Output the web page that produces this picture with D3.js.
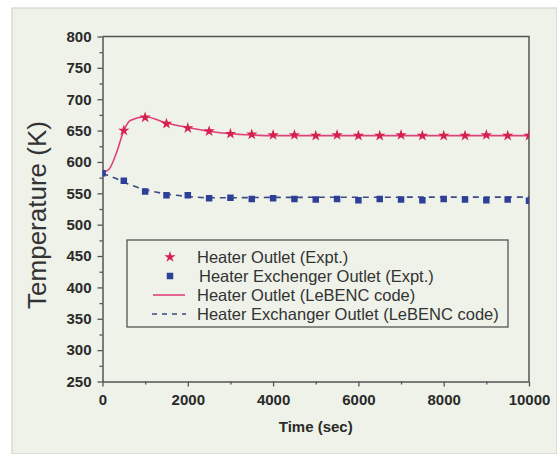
<!DOCTYPE html>
<html>
<head>
<meta charset="utf-8">
<script src="https://cdn.jsdelivr.net/npm/d3@7"></script>
<style>
  body { margin: 0; background: #fff; }
  svg { display: block; font-family: "Liberation Sans", Arial, sans-serif; }
</style>
</head>
<body>
<div id="chart"></div>
<script>
// data
// ----------------------------------------
var xTicks = [0, 2000, 4000, 6000, 8000, 10000];
var yTicks = [250, 300, 350, 400, 450, 500, 550, 600, 650, 700, 750, 800];

// Heater outlet, experiment (stars)
var heaterExptTime = [500, 1000, 1500, 2000, 2500, 3000, 3500, 4000, 4500, 5000, 5500, 6000, 6500, 7000, 7500, 8000, 8500, 9000, 9500, 10000];
var heaterExptTemp = [650, 671, 661, 654, 649, 645, 644, 643, 643, 642, 643, 642, 642, 643, 642, 642, 642, 643, 642, 642];

// Heat exchanger outlet, experiment (squares)
var hxExptTime = [0, 500, 1000, 1500, 2000, 2500, 3000, 3500, 4000, 4500, 5000, 5500, 6000, 6500, 7000, 7500, 8000, 8500, 9000, 9500, 10000];
var hxExptTemp = [582, 570, 553, 547, 547, 542, 543, 541, 542, 541, 540, 541, 539, 541, 540, 539, 541, 540, 539, 540, 538];

// Heater outlet, LeBENC code (solid line)
var heaterCodeTime = [0, 150, 330, 500, 650, 1000, 1500, 2000, 2500, 3000, 3500, 4000, 10000];
var heaterCodeTemp = [583, 588, 615, 650, 666, 672, 662, 655, 649, 645, 643, 642, 642];

// Heat exchanger outlet, LeBENC code (dashed line)
var hxCodeTime = [0, 300, 600, 1000, 1500, 2000, 2500, 3000, 4000, 10000];
var hxCodeTemp = [582, 574, 565, 556, 549, 545, 543, 543, 543.5, 544];

var legendLabels = [
	"Heater Outlet (Expt.)",
	"Heater Exchenger Outlet (Expt.)",
	"Heater Outlet (LeBENC code)",
	"Heater Exchanger Outlet (LeBENC code)"
];

// main variables
// ----------------------------------------
var width = 557, height = 454;
var margin = {top: 36.5, right: 28, bottom: 72.5, left: 102.5};
var plotW = width - margin.left - margin.right,
	plotH = height - margin.top - margin.bottom;

var red = "#d6204e", pink = "#e0407c", blue = "#2e3f98", dashCol = "#3b4a86", axisCol = "#555";

var svg = d3.select("#chart").append("svg")
	.attr("width", width)
	.attr("height", height);

// panel background
svg.append("rect")
	.attr("x", 12).attr("y", 8)
	.attr("width", width - 12).attr("height", height - 8)
	.attr("fill", "#eef2e9")
	.attr("stroke", "#c9cdc4")
	.attr("stroke-width", 1);

var plot = svg.append("g")
	.attr("transform", "translate(" + margin.left + "," + margin.top + ")");

var x = d3.scaleLinear().domain([0, 10000]).range([0, plotW]);
var y = d3.scaleLinear().domain([250, 800]).range([plotH, 0]);

plot.append("clipPath").attr("id", "clip")
	.append("rect").attr("width", plotW).attr("height", plotH);

// frame (top and right)
plot.append("path")
	.attr("d", "M0,0H" + plotW + "V" + plotH)
	.attr("fill", "none")
	.attr("stroke", axisCol)
	.attr("stroke-width", 1.5);

// minor ticks
plot.append("g")
	.call(d3.axisLeft(y).tickValues(d3.range(275, 800, 50)).tickSize(3).tickFormat(""))
	.call(function(g){ g.select(".domain").remove(); });
plot.append("g")
	.attr("transform", "translate(0," + plotH + ")")
	.call(d3.axisBottom(x).tickValues(d3.range(1000, 10000, 2000)).tickSize(3).tickFormat(""))
	.call(function(g){ g.select(".domain").remove(); });

// axes
plot.append("g")
	.call(d3.axisLeft(y).tickValues(yTicks).tickSize(5).tickSizeOuter(0).tickPadding(6));
plot.append("g")
	.attr("transform", "translate(0," + plotH + ")")
	.call(d3.axisBottom(x).tickValues(xTicks).tickFormat(d3.format("d")).tickSize(5).tickSizeOuter(0).tickPadding(8));

plot.selectAll(".tick line").attr("stroke", axisCol).attr("stroke-width", 1.3);
plot.selectAll(".domain").attr("stroke", axisCol).attr("stroke-width", 1.5);
plot.selectAll(".tick text")
	.attr("font-family", "'Liberation Sans', Arial, sans-serif")
	.attr("font-size", 15)
	.attr("font-weight", "bold")
	.attr("fill", "#2a2a2a");

// axis titles
svg.append("text")
	.attr("transform", "translate(46," + (margin.top + plotH / 2 + 6) + ") rotate(-90)")
	.attr("text-anchor", "middle")
	.attr("font-size", 26)
	.attr("fill", "#333")
	.text("Temperature (K)");

svg.append("text")
	.attr("x", margin.left + plotW / 2)
	.attr("y", 432)
	.attr("text-anchor", "middle")
	.attr("font-size", 15)
	.attr("font-weight", "bold")
	.attr("fill", "#2a2a2a")
	.text("Time (sec)");

// lines and markers
var data = plot.append("g").attr("clip-path", "url(#clip)");

var line = d3.line()
	.curve(d3.curveMonotoneX)
	.x(function(d){ return x(d[0]); })
	.y(function(d){ return y(d[1]); });

data.append("path")
	.datum(d3.zip(hxCodeTime, hxCodeTemp))
	.attr("d", line)
	.attr("fill", "none")
	.attr("stroke", dashCol)
	.attr("stroke-width", 1.6)
	.attr("stroke-dasharray", "6,5");

data.append("path")
	.datum(d3.zip(heaterCodeTime, heaterCodeTemp))
	.attr("d", line)
	.attr("fill", "none")
	.attr("stroke", pink)
	.attr("stroke-width", 1.6);

var square = d3.symbol().type(d3.symbolSquare).size(42);
var star = d3.symbol().type(d3.symbolStar).size(40);

data.selectAll(".sq")
	.data(d3.zip(hxExptTime, hxExptTemp))
	.enter().append("path")
	.attr("class", "sq")
	.attr("d", square)
	.attr("transform", function(d){ return "translate(" + x(d[0]) + "," + y(d[1]) + ")"; })
	.attr("fill", blue);

data.selectAll(".st")
	.data(d3.zip(heaterExptTime, heaterExptTemp))
	.enter().append("path")
	.attr("class", "st")
	.attr("d", star)
	.attr("transform", function(d){ return "translate(" + x(d[0]) + "," + y(d[1]) + ")"; })
	.attr("fill", red);

// legend
var legend = svg.append("g");
legend.append("rect")
	.attr("x", 127).attr("y", 240)
	.attr("width", 381).attr("height", 87)
	.attr("fill", "none")
	.attr("stroke", axisCol)
	.attr("stroke-width", 1.3);

var rowY = [257, 276, 295, 314];
var textX = [197, 199, 197, 197];

legend.append("path").attr("d", star)
	.attr("transform", "translate(170," + rowY[0] + ")").attr("fill", red);
legend.append("path").attr("d", square)
	.attr("transform", "translate(170," + rowY[1] + ")").attr("fill", blue);
legend.append("line")
	.attr("x1", 153).attr("x2", 185).attr("y1", rowY[2]).attr("y2", rowY[2])
	.attr("stroke", pink).attr("stroke-width", 1.6);
legend.append("line")
	.attr("x1", 152).attr("x2", 186).attr("y1", rowY[3]).attr("y2", rowY[3])
	.attr("stroke", dashCol).attr("stroke-width", 1.4)
	.attr("stroke-dasharray", "5,5");

legend.selectAll(".lt")
	.data(legendLabels)
	.enter().append("text")
	.attr("class", "lt")
	.attr("x", function(d, i){ return textX[i]; })
	.attr("y", function(d, i){ return rowY[i] + 6; })
	.attr("font-size", 16.5)
	.attr("fill", "#333")
	.text(function(d){ return d; });
</script>
</body>
</html>
